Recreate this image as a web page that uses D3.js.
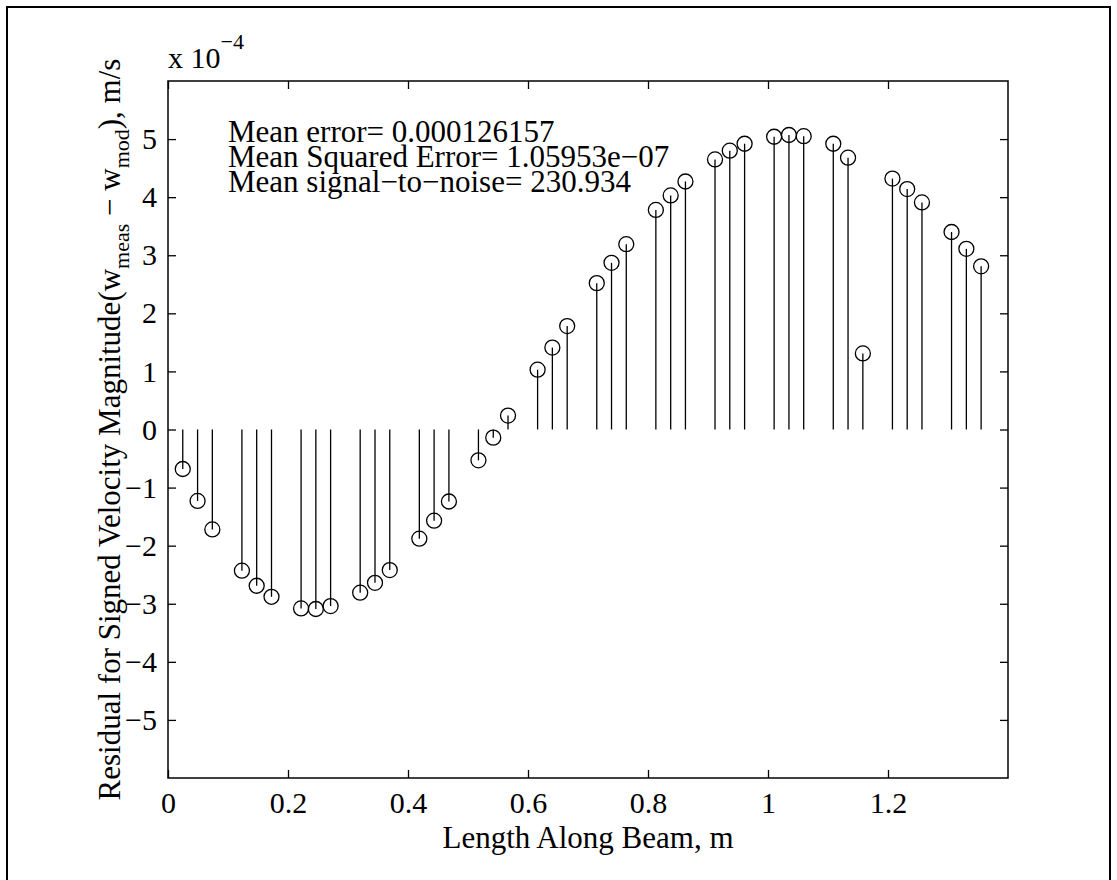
<!DOCTYPE html>
<html>
<head>
<meta charset="utf-8">
<script src="https://cdn.jsdelivr.net/npm/d3@7"></script>
<style>
  body { margin: 0; background: #fff; }
  svg { font-family: 'Liberation Serif', 'Times New Roman', serif; }
</style>
</head>
<body>
<svg width="1117" height="880"></svg>
<script>
// position along beam (m)
const beamPos = [
  0.0246, 0.0493, 0.0739, 0.1232, 0.1478, 0.1725, 0.2218, 0.2464, 0.2710,
  0.3203, 0.3450, 0.3696, 0.4189, 0.4435, 0.4682, 0.5174, 0.5421, 0.5667,
  0.6160, 0.6406, 0.6653, 0.7146, 0.7392, 0.7638, 0.8131, 0.8378, 0.8624,
  0.9117, 0.9363, 0.9610, 1.0102, 1.0349, 1.0595, 1.1088, 1.1334, 1.1581,
  1.2074, 1.2320, 1.2566, 1.3059, 1.3306, 1.3552
]
// residual, units of 1e-4 m/s
const residual = [
  -0.68, -1.23, -1.72, -2.43, -2.69, -2.88, -3.08, -3.09, -3.04,
  -2.81, -2.64, -2.42, -1.88, -1.57, -1.24, -0.53, -0.14, 0.24,
  1.03, 1.41, 1.78, 2.52, 2.87, 3.19, 3.78, 4.03, 4.27,
  4.65, 4.80, 4.92, 5.04, 5.07, 5.05, 4.92, 4.68, 1.31,
  4.32, 4.14, 3.91, 3.40, 3.11, 2.81
]
const xTicks = [0, 0.2, 0.4, 0.6, 0.8, 1, 1.2]
const yTicks = [-5, -4, -3, -2, -1, 0, 1, 2, 3, 4, 5]
const statLines = [
  'Mean error= 0.000126157',
  'Mean Squared Error= 1.05953e\u221207',
  'Mean signal\u2212to\u2212noise= 230.934'
]

const svg = d3.select('svg')
const margin = { top: 81, right: 109, bottom: 102, left: 168 }
const width = +svg.attr('width') - margin.left - margin.right
const height = +svg.attr('height') - margin.top - margin.bottom

// outer figure frame
svg.append('path')
  .attr('d', 'M7,880 V7 H1110 V880')
  .attr('fill', 'none')
  .attr('stroke', '#000')
  .attr('stroke-width', 2)

const g = svg.append('g').attr('transform', 'translate(' + margin.left + ',' + margin.top + ')')

const x = d3.scaleLinear().domain([0, 1.4]).range([0, width])
const y = d3.scaleLinear().domain([-6, 6]).range([height, 0])

const fmt = d => String(d).replace('-', '\u2212')

function styleAxis (sel) {
  sel.select('.domain').remove()
  sel.selectAll('line').attr('stroke', '#000').attr('stroke-width', 1.3)
  sel.selectAll('text').attr('font-size', 30).attr('fill', '#000')
    .attr('font-family', "'Liberation Serif', serif")
}

g.append('g')
  .attr('transform', 'translate(0,' + height + ')')
  .call(d3.axisBottom(x).tickValues(xTicks).tickFormat(fmt).tickSizeInner(-8).tickPadding(14))
  .call(styleAxis)

g.append('g')
  .call(d3.axisTop(x).tickValues(xTicks).tickFormat('').tickSizeInner(-8))
  .call(styleAxis)

g.append('g')
  .call(d3.axisLeft(y).tickValues(yTicks).tickFormat(fmt).tickSizeInner(-8).tickPadding(11))
  .call(styleAxis)

g.append('g')
  .attr('transform', 'translate(' + width + ',0)')
  .call(d3.axisRight(y).tickValues(yTicks).tickFormat('').tickSizeInner(-8))
  .call(styleAxis)

g.append('rect')
  .attr('width', width)
  .attr('height', height)
  .attr('fill', 'none')
  .attr('stroke', '#000')
  .attr('stroke-width', 1.5)

// stems
const points = beamPos.map((p, i) => ({ p: p, v: residual[i] }))

g.selectAll('.stem')
  .data(points)
  .enter().append('line')
  .attr('class', 'stem')
  .attr('x1', d => x(d.p))
  .attr('x2', d => x(d.p))
  .attr('y1', y(0))
  .attr('y2', d => y(d.v))
  .attr('stroke', '#000')
  .attr('stroke-width', 1.3)

g.selectAll('.marker')
  .data(points)
  .enter().append('circle')
  .attr('class', 'marker')
  .attr('cx', d => x(d.p))
  .attr('cy', d => y(d.v))
  .attr('r', 7.5)
  .attr('fill', 'none')
  .attr('stroke', '#000')
  .attr('stroke-width', 1.3)

// stats text
const stats = g.append('text')
  .attr('x', 60)
  .attr('y', 61)
  .attr('font-size', 31)
for (let i = 0; i < statLines.length; i++) {
  stats.append('tspan')
    .attr('x', 60)
    .attr('dy', i === 0 ? 0 : 25)
    .text(statLines[i])
}

// exponent label
const expo = svg.append('text')
  .attr('x', 168)
  .attr('y', 68)
  .attr('font-size', 30)
expo.append('tspan').text('x 10')
expo.append('tspan').attr('dy', -19).attr('font-size', 22).text('\u22124')

// x label
svg.append('text')
  .attr('x', margin.left + width / 2)
  .attr('y', 848)
  .attr('text-anchor', 'middle')
  .attr('font-size', 31)
  .text('Length Along Beam, m')

// y label
const yl = svg.append('text')
  .attr('transform', 'translate(120,' + (margin.top + height / 2) + ') rotate(-90)')
  .attr('text-anchor', 'middle')
  .attr('font-size', 31)
yl.append('tspan').text('Residual for Signed Velocity Magnitude(w')
yl.append('tspan').attr('dy', 9).attr('font-size', 22).text('meas')
yl.append('tspan').attr('dy', -9).text(' \u2212 w')
yl.append('tspan').attr('dy', 9).attr('font-size', 22).text('mod')
yl.append('tspan').attr('dy', -9).text('), m/s')
</script>
</body>
</html>
